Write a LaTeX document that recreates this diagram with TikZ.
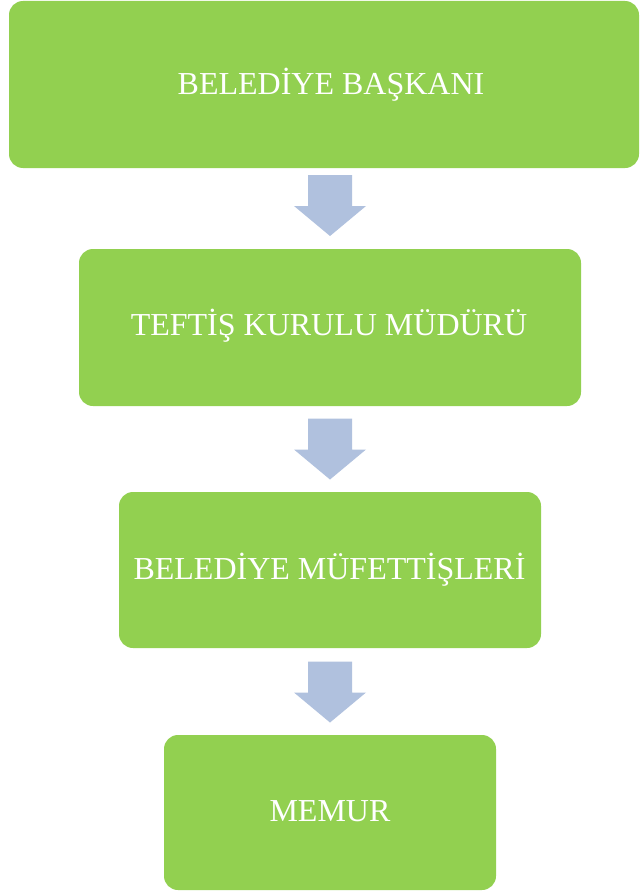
\documentclass[tikz,border=0pt]{standalone}
\usepackage{fontspec}
\setmainfont{Liberation Serif}
\definecolor{boxgreen}{RGB}{146,208,80}
\definecolor{arrblue}{RGB}{176,193,222}
\tikzset{
  greenbox/.style={fill=boxgreen, draw=none, rounded corners=14pt, inner sep=0pt},
  lbl/.style={text=white, font=\fontsize{32}{36}\selectfont, inner sep=0pt, anchor=base},
  blockarrow/.style={fill=arrblue, draw=none}
}
\newcommand{\downarrowshape}[2]{% #1 = center x, #2 = top y
  \fill[blockarrow] (#1-22,#2) -- (#1+22,#2) -- (#1+22,#2+31) -- (#1+36,#2+31)
    -- (#1,#2+61) -- (#1-36,#2+31) -- (#1-22,#2+31) -- cycle;}
\begin{document}
\begin{tikzpicture}[x=1pt,y=-1pt]
\useasboundingbox[fill=white] (0,0) rectangle (640,891);
\node[greenbox, minimum width=630pt, minimum height=167pt] (b1) at (324,84.5) {};
\node[greenbox, minimum width=502pt, minimum height=157pt] (b2) at (330,327.5) {};
\node[greenbox, minimum width=422pt, minimum height=156pt] (b3) at (330,570) {};
\node[greenbox, minimum width=332pt, minimum height=155pt] (b4) at (330,812.5) {};
\node[lbl] (t1) at (331,94.5) {BELEDİYE BAŞKANI};
\node[lbl] (t2) at (329,335) {TEFTİŞ KURULU MÜDÜRÜ};
\node[lbl] (t3) at (329.5,579.5) {BELEDİYE MÜFETTİŞLERİ};
\node[lbl] (t4) at (330,821.5) {MEMUR};
\downarrowshape{330}{175}
\downarrowshape{330}{418.5}
\downarrowshape{330}{661.5}
\end{tikzpicture}
\end{document}
